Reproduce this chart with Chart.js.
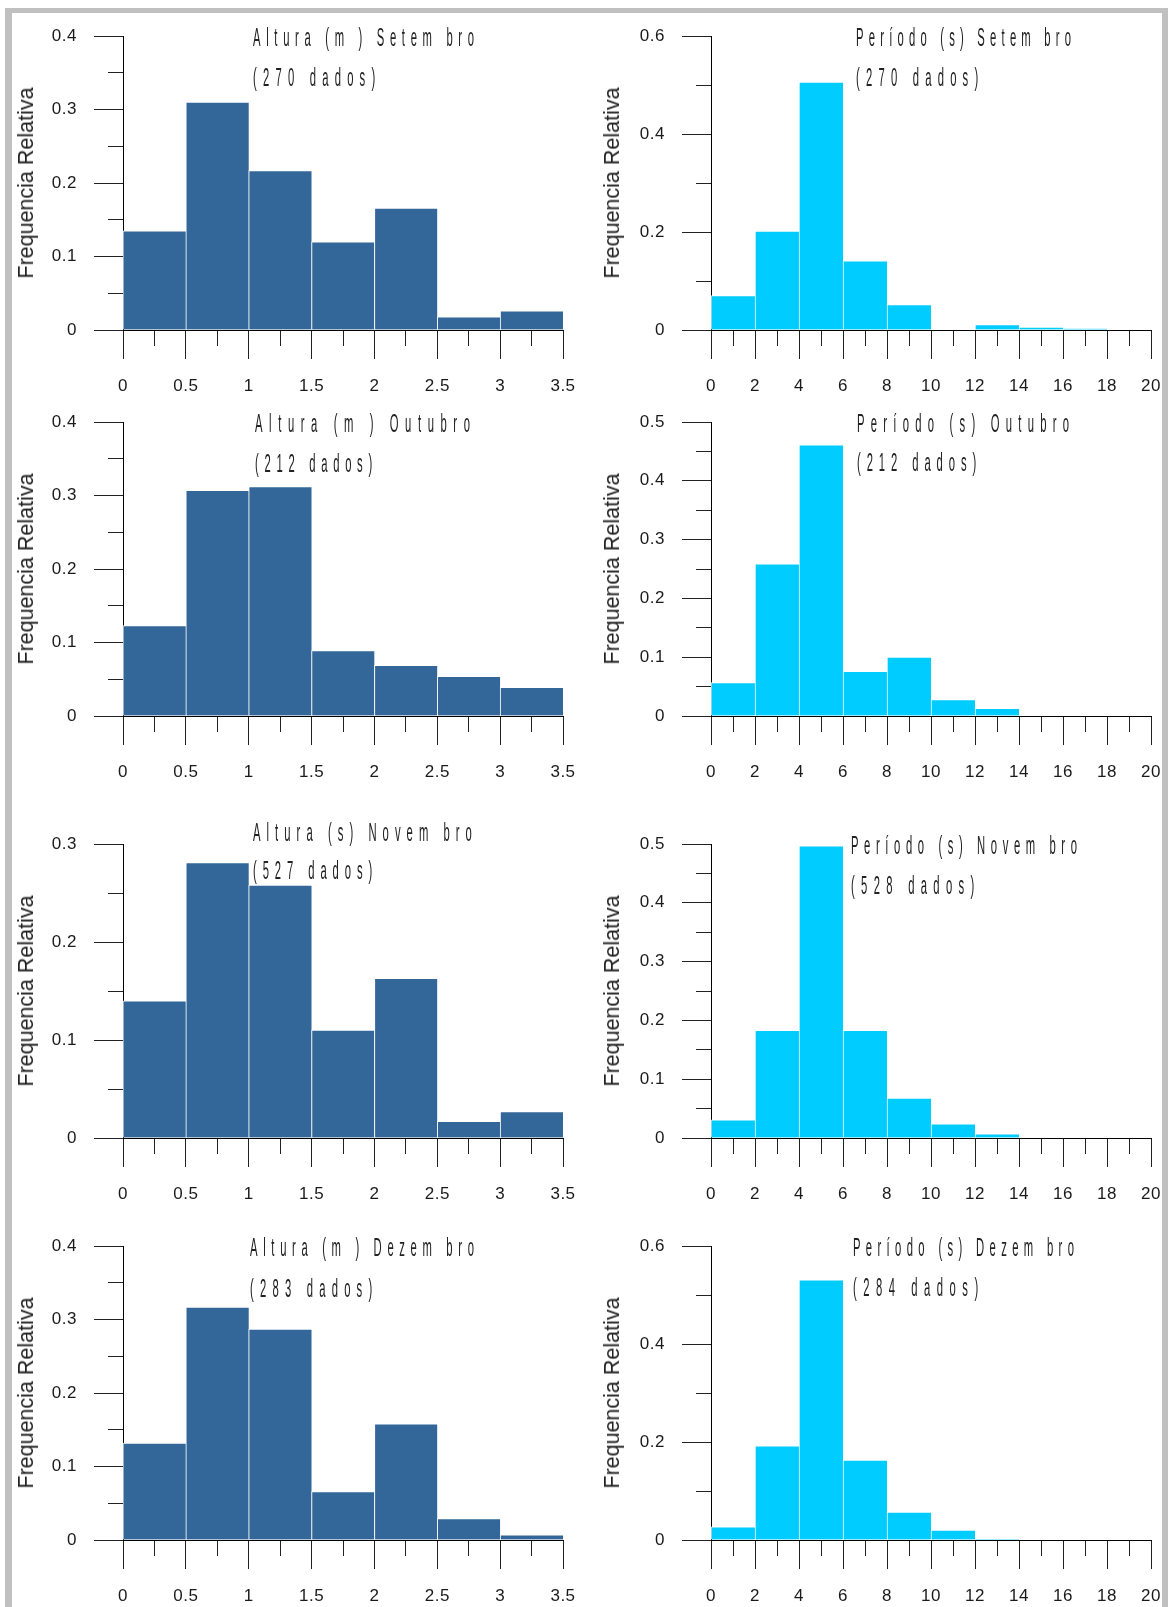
<!DOCTYPE html>
<html>
<head>
<meta charset="utf-8">
<script src="https://cdn.jsdelivr.net/npm/chart.js@4.4.1/dist/chart.umd.min.js"></script>
<style>
  html, body { margin: 0; padding: 0; background: #fff; }
  #page { position: relative; width: 1168px; height: 1607px; overflow: hidden; background: #fff; }
  .band { position: absolute; background: #c0c0c0; }
  canvas { position: absolute; display: block; }
  .ttl {
    position: absolute; white-space: pre; color: #222;
    font-family: "Liberation Sans Narrow", "Liberation Sans", Arial, sans-serif;
    font-size: 25px; line-height: 25px; transform-origin: 0 50%;
  }
  .ytitle {
    position: absolute; white-space: nowrap; color: #222;
    font-family: "Liberation Sans", Arial, sans-serif; font-size: 21.5px; line-height: 24px;
    transform: translate(-50%, -50%) rotate(-90deg);
  }
</style>
</head>
<body>
<div id="page">
  <div class="band" style="left:5px;top:8px;width:1163px;height:5px"></div>
  <div class="band" style="left:5px;top:8px;width:7px;height:1600px"></div>
  <div class="band" style="left:1162px;top:8px;width:6px;height:1600px"></div>
</div>
<script>
// Histogramas de altura e período das ondas, set-dez.

// limites das classes
const alturaBordas = [0, 0.5, 1, 1.5, 2, 2.5, 3, 3.5];
const periodoBordas = [0, 2, 4, 6, 8, 10, 12, 14, 16, 18, 20];

// frequencia relativa por classe
const alturaSet = [0.135, 0.310, 0.217, 0.120, 0.166, 0.018, 0.026];
const alturaOut = [0.123, 0.307, 0.312, 0.089, 0.069, 0.054, 0.039];
const alturaNov = [0.140, 0.281, 0.258, 0.110, 0.163, 0.017, 0.027];
const alturaDez = [0.132, 0.317, 0.287, 0.066, 0.158, 0.029, 0.007];

const periodoSet = [0.070, 0.202, 0.506, 0.141, 0.052, 0, 0.011, 0.006, 0.003, 0];
const periodoOut = [0.057, 0.259, 0.461, 0.076, 0.100, 0.028, 0.013, 0, 0, 0];
const periodoNov = [0.031, 0.183, 0.497, 0.183, 0.068, 0.024, 0.007, 0, 0, 0];
const periodoDez = [0.027, 0.192, 0.531, 0.163, 0.057, 0.020, 0.002, 0, 0, 0];

// eixos y: maximo e passo dos rotulos
const yMaxAltura = [0.4, 0.4, 0.3, 0.4];
const yMaxPeriodo = [0.6, 0.5, 0.5, 0.6];
const yPassoAltura = [0.1, 0.1, 0.1, 0.1];
const yPassoPeriodo = [0.2, 0.1, 0.1, 0.2];

// eixos x: passo dos rotulos
const xPassoAltura = 0.5;
const xPassoPeriodo = 2;

const titulosAltura = [
  ["Altura (m ) Setem bro", "(270 dados)"],
  ["Altura (m ) Outubro", "(212 dados)"],
  ["Altura (s) Novem bro", "(527 dados)"],
  ["Altura (m ) Dezem bro", "(283 dados)"],
];
const titulosPeriodo = [
  ["Período (s) Setem bro", "(270 dados)"],
  ["Período (s) Outubro", "(212 dados)"],
  ["Período (s) Novem bro", "(528 dados)"],
  ["Período (s) Dezem bro", "(284 dados)"],
];
const eixoY = "Frequencia Relativa";

// ---- layout (pixels) ----
const PLOT_W = 440, PLOT_H = 294;
const rowTop = [36, 422, 844, 1246];
const col = [
  { canvasLeft: 12, plotLeft: 123, padRight: 25, yTitleX: 26, cor: "#336699" },
  { canvasLeft: 597, plotLeft: 711, padRight: 11, yTitleX: 612, cor: "#00CCFF" },
];
// posicao dos titulos: [x, y linha1, y linha2, largura1, largura2]
const ttlAltura = [
  [253, 37, 77, 221, 122], [255, 423, 463, 215, 117],
  [253, 832, 870, 219, 119], [250, 1247, 1288, 224, 122],
];
const ttlPeriodo = [
  [856, 37, 77, 215, 122], [857, 423, 462, 212, 119],
  [851, 845, 885, 226, 123], [853, 1247, 1287, 221, 125],
];

const NARROW = '"Liberation Sans Narrow", "Liberation Sans", Arial, sans-serif';
const isMajor = (v, m) => Math.abs(v / m - Math.round(v / m)) < 1e-6;
const fmt = (v) => String(parseFloat(v.toFixed(2)));
const spacing = { id: "spacing", beforeDraw(c) { c.ctx.letterSpacing = "0.5px"; } };
// tracos menores: so a parte junto ao eixo
const dashX = (m) => (ctx) => (!ctx.tick || isMajor(ctx.tick.value, m) ? [] : [15, 100]);
const dashY = (m) => (ctx) => (!ctx.tick || isMajor(ctx.tick.value, m) ? [] : [0, 14, 100]);

const page = document.getElementById("page");

function addTitle(text, x, yc, target) {
  const el = document.createElement("div");
  el.className = "ttl";
  el.textContent = text;
  el.style.left = x + "px";
  el.style.top = (yc - 12.5) + "px";
  page.appendChild(el);
  const sx = 0.45;
  const natural = el.offsetWidth;
  const ls = (target / sx - natural) / Math.max(1, text.length - 1);
  el.style.letterSpacing = ls.toFixed(2) + "px";
  el.style.transform = `scaleX(${sx})`;
}

function addYTitle(x, yc) {
  const el = document.createElement("div");
  el.className = "ytitle";
  el.textContent = eixoY;
  el.style.left = x + "px";
  el.style.top = yc + "px";
  page.appendChild(el);
}

function painel(lado, row, bordas, valores, yMax, yPasso, xPasso) {
  const c = col[lado];
  const top = rowTop[row];
  const W = c.plotLeft + PLOT_W + c.padRight - c.canvasLeft;
  const H = PLOT_H + 16 + 70;
  const cv = document.createElement("canvas");
  cv.width = W; cv.height = H;
  cv.style.left = c.canvasLeft + "px";
  cv.style.top = (top - 16) + "px";
  cv.style.width = W + "px"; cv.style.height = H + "px";
  page.appendChild(cv);

  const cats = bordas.slice(0, -1).map((b, i) => `${b}-${bordas[i + 1]}`);
  const yW = c.plotLeft - c.canvasLeft;
  const tickFont = { family: NARROW, size: 17 };

  new Chart(cv, {
    type: "bar",
    data: {
      labels: cats,
      datasets: [{
        data: valores,
        backgroundColor: c.cor,
        borderColor: "rgba(255,255,255,0.85)",
        borderWidth: { left: 1, top: 1, right: 0, bottom: 0 },
        barPercentage: 1, categoryPercentage: 1,
      }],
    },
    options: {
      responsive: false, animation: false, events: [],
      layout: { padding: { top: 16, right: c.padRight, left: 0, bottom: 0 } },
      plugins: { legend: { display: false }, tooltip: { enabled: false } },
      scales: {
        x: { type: "category", display: false, offset: true },
        xv: {
          type: "linear", position: "bottom", min: bordas[0], max: bordas[bordas.length - 1], z: 1,
          offset: false,
          afterFit: (s) => { s.height = 70; s.paddingLeft = 0; s.paddingRight = 0; },
          border: { display: true, color: "#000", width: 1 },
          grid: {
            offset: false, drawOnChartArea: false, tickLength: 29, tickColor: "#222", tickWidth: 1,
            tickBorderDash: dashX(xPasso),
          },
          ticks: {
            stepSize: xPasso / 2, autoSkip: false, maxRotation: 0, padding: 17,
            color: "#1a1a1a", font: tickFont,
            callback: (v) => (isMajor(v, xPasso) ? fmt(v) : ""),
          },
        },
        y: {
          min: 0, max: yMax, z: 1,
          afterFit: (s) => { s.width = yW; s.paddingTop = 0; s.paddingBottom = 0; },
          border: { display: true, color: "#000", width: 1 },
          grid: {
            drawOnChartArea: false, tickLength: 29, tickColor: "#222", tickWidth: 1,
            tickBorderDash: dashY(yPasso),
          },
          ticks: {
            stepSize: yPasso / 2, autoSkip: false, padding: 17,
            color: "#1a1a1a", font: tickFont,
            callback: (v) => (isMajor(v, yPasso) ? fmt(v) : ""),
          },
        },
      },
    },
    plugins: [spacing],
  });

  addYTitle(c.yTitleX, top + PLOT_H / 2);
}

const alturas = [alturaSet, alturaOut, alturaNov, alturaDez];
const periodos = [periodoSet, periodoOut, periodoNov, periodoDez];

for (let r = 0; r < 4; r++) {
  painel(0, r, alturaBordas, alturas[r], yMaxAltura[r], yPassoAltura[r], xPassoAltura);
  painel(1, r, periodoBordas, periodos[r], yMaxPeriodo[r], yPassoPeriodo[r], xPassoPeriodo);
  const a = ttlAltura[r], p = ttlPeriodo[r];
  addTitle(titulosAltura[r][0], a[0], a[1], a[3]);
  addTitle(titulosAltura[r][1], a[0], a[2], a[4]);
  addTitle(titulosPeriodo[r][0], p[0], p[1], p[3]);
  addTitle(titulosPeriodo[r][1], p[0], p[2], p[4]);
}
</script>
</body>
</html>
